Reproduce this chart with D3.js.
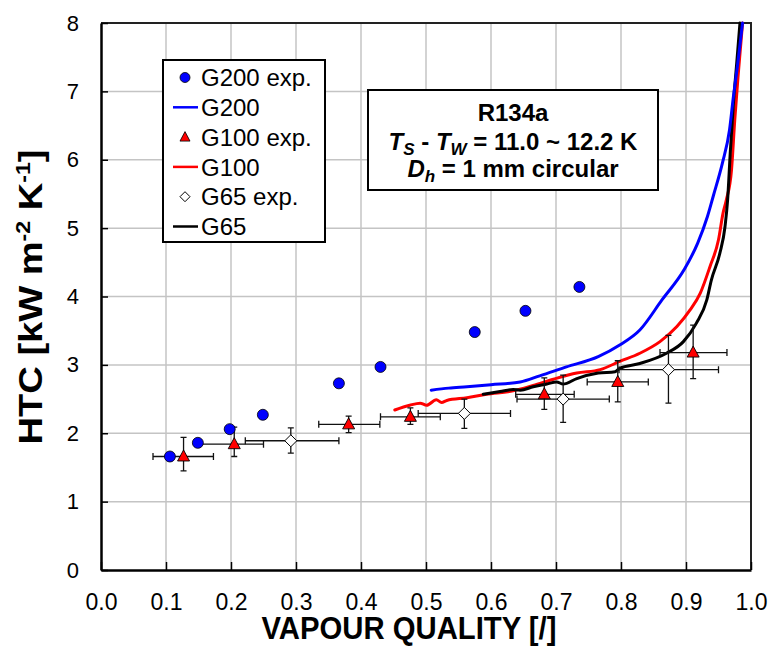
<!DOCTYPE html>
<html>
<head>
<meta charset="utf-8">
<script src="https://cdn.jsdelivr.net/npm/d3@7"></script>
<style>
  html, body { margin: 0; padding: 0; background: #fff; }
  svg { display: block; font-family: "Liberation Sans", Arial, sans-serif; }
</style>
</head>
<body>
<svg id="chart" width="771" height="655"></svg>
<script>
// Tick values
const xTicks = [0.0, 0.1, 0.2, 0.3, 0.4, 0.5, 0.6, 0.7, 0.8, 0.9, 1.0];
const yTicks = [0, 1, 2, 3, 4, 5, 6, 7, 8];

// G200 experimental points
const g200ExpX = [0.106, 0.149, 0.198, 0.249, 0.366, 0.430, 0.575, 0.653, 0.736];
const g200ExpY = [1.66, 1.86, 2.06, 2.27, 2.73, 2.97, 3.48, 3.79, 4.14];

// G100 experimental points with error ranges
const g100ExpX   = [0.127, 0.205, 0.381, 0.476, 0.682, 0.795, 0.911];
const g100ExpY   = [1.66, 1.84, 2.13, 2.24, 2.57, 2.75, 3.18];
const g100ExpXLo = [0.080, 0.150, 0.335, 0.430, 0.638, 0.748, 0.860];
const g100ExpXHi = [0.173, 0.250, 0.429, 0.522, 0.728, 0.842, 0.963];
const g100ExpYLo = [1.45, 1.66, 2.01, 2.13, 2.35, 2.46, 2.80];
const g100ExpYHi = [1.94, 2.09, 2.25, 2.37, 2.81, 3.06, 3.58];

// G65 experimental points with error ranges
const g65ExpX   = [0.292, 0.559, 0.711, 0.873];
const g65ExpY   = [1.89, 2.29, 2.50, 2.93];
const g65ExpXLo = [0.222, 0.488, 0.640, 0.797];
const g65ExpXHi = [0.366, 0.630, 0.782, 0.950];
const g65ExpYLo = [1.71, 2.07, 2.16, 2.44];
const g65ExpYHi = [2.08, 2.50, 2.85, 3.43];

// Model curves
const g200X = [0.508, 0.535, 0.563, 0.600, 0.645, 0.675, 0.716, 0.765, 0.798, 0.829, 0.863, 0.897, 0.918, 0.933, 0.942, 0.956, 0.967, 0.973, 0.979, 0.987];
const g200Y = [2.63, 2.66, 2.68, 2.71, 2.75, 2.84, 2.97, 3.12, 3.29, 3.51, 3.95, 4.39, 4.78, 5.17, 5.47, 5.95, 6.44, 6.93, 7.36, 8.00];

const g100X = [0.452, 0.475, 0.491, 0.501, 0.516, 0.524, 0.532, 0.563, 0.593, 0.634, 0.665, 0.696, 0.732, 0.768, 0.798, 0.829, 0.860, 0.886, 0.906, 0.922, 0.937, 0.950, 0.957, 0.962, 0.970, 0.975, 0.980, 0.987];
const g100Y = [2.34, 2.41, 2.44, 2.41, 2.49, 2.45, 2.48, 2.52, 2.57, 2.62, 2.70, 2.79, 2.88, 2.93, 3.05, 3.17, 3.34, 3.56, 3.80, 4.05, 4.44, 4.83, 5.22, 5.41, 5.85, 6.58, 7.21, 8.00];

const g65X = [0.588, 0.614, 0.634, 0.645, 0.665, 0.686, 0.701, 0.711, 0.732, 0.765, 0.791, 0.798, 0.829, 0.870, 0.896, 0.916, 0.932, 0.939, 0.952, 0.960, 0.964, 0.968, 0.973, 0.978, 0.983];
const g65Y = [2.57, 2.61, 2.64, 2.63, 2.68, 2.72, 2.75, 2.72, 2.80, 2.88, 2.90, 2.95, 3.02, 3.17, 3.34, 3.61, 3.95, 4.24, 4.63, 5.02, 5.41, 6.09, 6.83, 7.41, 8.00];

const BLUE = "#0000ff", RED = "#ff0000", BLACK = "#000000";

const svg = d3.select("#chart");
const plot = { left: 101, right: 751, top: 23, bottom: 570 };

const x = d3.scaleLinear().domain([0, 1]).range([plot.left, plot.right]);
const y = d3.scaleLinear().domain([0, 8]).range([plot.bottom, plot.top]);

// Grid
const grid = svg.append("g").attr("stroke", "#c4c4c4").attr("stroke-width", 1.5);
grid.selectAll(".gx").data(xTicks.slice(1, -1)).join("line")
  .attr("x1", d => x(d)).attr("x2", d => x(d))
  .attr("y1", plot.top).attr("y2", plot.bottom);
grid.selectAll(".gy").data(yTicks.slice(1, -1)).join("line")
  .attr("x1", plot.left).attr("x2", plot.right)
  .attr("y1", d => y(d)).attr("y2", d => y(d));

// Frame (top and right)
svg.append("path")
  .attr("d", `M${plot.left},${plot.top}H${plot.right}V${plot.bottom}`)
  .attr("fill", "none").attr("stroke", "#222").attr("stroke-width", 2);

// Axes with inward ticks
const xAxis = svg.append("g").attr("transform", `translate(0,${plot.bottom})`)
  .call(d3.axisBottom(x).tickValues(xTicks).tickSizeInner(-8).tickSizeOuter(0)
    .tickPadding(24).tickFormat(d3.format(".1f")));
xAxis.select(".domain").attr("stroke", BLACK).attr("stroke-width", 2.5);
xAxis.selectAll(".tick line").attr("stroke", BLACK).attr("stroke-width", 1.5);
xAxis.selectAll(".tick text").attr("font-size", 23).attr("fill", BLACK)
  .attr("font-family", "'Liberation Sans', Arial, sans-serif");

const yAxis = svg.append("g").attr("transform", `translate(${plot.left},0)`)
  .call(d3.axisLeft(y).tickValues(yTicks).tickSizeInner(-7).tickSizeOuter(0)
    .tickPadding(22).tickFormat(d3.format("d")));
yAxis.select(".domain").attr("stroke", BLACK).attr("stroke-width", 2.5);
yAxis.selectAll(".tick line").attr("stroke", BLACK).attr("stroke-width", 1.5);
yAxis.selectAll(".tick text").attr("font-size", 22).attr("fill", BLACK)
  .attr("font-family", "'Liberation Sans', Arial, sans-serif");

// Axis titles
svg.append("text")
  .attr("x", (plot.left + plot.right) / 2 - 17).attr("y", 639)
  .attr("text-anchor", "middle").attr("font-weight", "bold").attr("font-size", 31)
  .attr("textLength", 295).attr("lengthAdjust", "spacingAndGlyphs")
  .text("VAPOUR QUALITY [/]");

const yt = svg.append("text")
  .attr("transform", "translate(42,297) rotate(-90)")
  .attr("text-anchor", "middle").attr("font-weight", "bold").attr("font-size", 33)
  .attr("textLength", 295).attr("lengthAdjust", "spacingAndGlyphs");
yt.append("tspan").text("HTC [kW m");
yt.append("tspan").attr("font-size", 20).attr("dy", -12).text("-2");
yt.append("tspan").attr("dy", 12).text(" K");
yt.append("tspan").attr("font-size", 20).attr("dy", -12).text("-1");
yt.append("tspan").attr("dy", 12).text("]");

// Model curves
const curves = [
  { xs: g100X, ys: g100Y, color: RED },
  { xs: g65X,  ys: g65Y,  color: BLACK },
  { xs: g200X, ys: g200Y, color: BLUE }
];
const line = d3.line().x(d => x(d[0])).y(d => y(d[1])).curve(d3.curveMonotoneX);
curves.forEach(c => {
  svg.append("path")
    .datum(c.xs.map((v, i) => [v, c.ys[i]]))
    .attr("d", line).attr("fill", "none")
    .attr("stroke", c.color).attr("stroke-width", 3)
    .attr("stroke-linejoin", "round").attr("stroke-linecap", "round");
});

// Error bars
function errorBars(xs, ys, xlo, xhi, ylo, yhi) {
  const g = svg.append("g").attr("stroke", "#111").attr("stroke-width", 1.3).attr("fill", "none");
  xs.forEach((xv, i) => {
    const cx = x(xv), cy = y(ys[i]);
    const x0 = x(xlo[i]), x1 = x(xhi[i]), y0 = y(ylo[i]), y1 = y(yhi[i]);
    g.append("path").attr("d",
      `M${x0},${cy}H${x1}M${x0},${cy - 3.5}V${cy + 3.5}M${x1},${cy - 3.5}V${cy + 3.5}` +
      `M${cx},${y0}V${y1}M${cx - 3},${y0}H${cx + 3}M${cx - 3},${y1}H${cx + 3}`);
  });
}
errorBars(g100ExpX, g100ExpY, g100ExpXLo, g100ExpXHi, g100ExpYLo, g100ExpYHi);
errorBars(g65ExpX, g65ExpY, g65ExpXLo, g65ExpXHi, g65ExpYLo, g65ExpYHi);

// Markers
const triPath = "M0,-6.5L6,4.5L-6,4.5Z";
const diaPath = "M0,-6L6,0L0,6L-6,0Z";

svg.append("g").selectAll("circle").data(g200ExpX).join("circle")
  .attr("cx", d => x(d)).attr("cy", (d, i) => y(g200ExpY[i])).attr("r", 5.5)
  .attr("fill", BLUE).attr("stroke", "#000").attr("stroke-width", 0.8);

svg.append("g").selectAll("path").data(g100ExpX).join("path")
  .attr("d", triPath)
  .attr("transform", (d, i) => `translate(${x(d)},${y(g100ExpY[i])})`)
  .attr("fill", RED).attr("stroke", "#000").attr("stroke-width", 0.9);

svg.append("g").selectAll("path").data(g65ExpX).join("path")
  .attr("d", diaPath)
  .attr("transform", (d, i) => `translate(${x(d)},${y(g65ExpY[i])})`)
  .attr("fill", "#fff").attr("stroke", "#000").attr("stroke-width", 1);

// Legend
const legendItems = [
  { label: "G200 exp.", type: "circle", color: BLUE },
  { label: "G200", type: "line", color: BLUE },
  { label: "G100 exp.", type: "tri", color: RED },
  { label: "G100", type: "line", color: RED },
  { label: "G65 exp.", type: "dia", color: "#fff" },
  { label: "G65", type: "line", color: BLACK }
];
const lg = svg.append("g");
lg.append("rect").attr("x", 163).attr("y", 60).attr("width", 162).attr("height", 182)
  .attr("fill", "#fff").attr("stroke", "#000").attr("stroke-width", 2);
legendItems.forEach((it, i) => {
  const cy = 77.5 + i * 29.8;
  if (it.type === "circle") {
    lg.append("circle").attr("cx", 185).attr("cy", cy).attr("r", 5)
      .attr("fill", it.color).attr("stroke", "#000").attr("stroke-width", 0.8);
  } else if (it.type === "tri") {
    lg.append("path").attr("d", "M0,-5.5L5,4L-5,4Z").attr("transform", `translate(185,${cy})`)
      .attr("fill", it.color).attr("stroke", "#000").attr("stroke-width", 0.8);
  } else if (it.type === "dia") {
    lg.append("path").attr("d", "M0,-5L5,0L0,5L-5,0Z").attr("transform", `translate(185,${cy})`)
      .attr("fill", "#fff").attr("stroke", "#000").attr("stroke-width", 1);
  } else {
    lg.append("line").attr("x1", 173).attr("x2", 198).attr("y1", cy).attr("y2", cy)
      .attr("stroke", it.color).attr("stroke-width", 2.5);
  }
  lg.append("text").attr("x", 201).attr("y", cy).attr("dy", "0.36em")
    .attr("font-size", 24).text(it.label);
});

// Annotation box
const ab = svg.append("g");
ab.append("rect").attr("x", 368).attr("y", 90).attr("width", 290).attr("height", 100)
  .attr("fill", "#fff").attr("stroke", "#000").attr("stroke-width", 2);
const cxA = 513;
ab.append("text").attr("x", cxA).attr("y", 121).attr("text-anchor", "middle")
  .attr("font-weight", "bold").attr("font-size", 24).text("R134a");
const l2 = ab.append("text").attr("x", cxA).attr("y", 150).attr("text-anchor", "middle")
  .attr("font-weight", "bold").attr("font-size", 24);
l2.append("tspan").attr("font-style", "italic").text("T");
l2.append("tspan").attr("font-style", "italic").attr("font-size", 17).attr("dy", 5).text("S");
l2.append("tspan").attr("dy", -5).text(" - ");
l2.append("tspan").attr("font-style", "italic").text("T");
l2.append("tspan").attr("font-style", "italic").attr("font-size", 17).attr("dy", 5).text("W");
l2.append("tspan").attr("dy", -5).text(" = 11.0 ~ 12.2 K");
const l3 = ab.append("text").attr("x", cxA).attr("y", 177).attr("text-anchor", "middle")
  .attr("font-weight", "bold").attr("font-size", 24);
l3.append("tspan").attr("font-style", "italic").text("D");
l3.append("tspan").attr("font-style", "italic").attr("font-size", 17).attr("dy", 5).text("h");
l3.append("tspan").attr("dy", -5).text(" = 1 mm circular");
</script>
</body>
</html>
